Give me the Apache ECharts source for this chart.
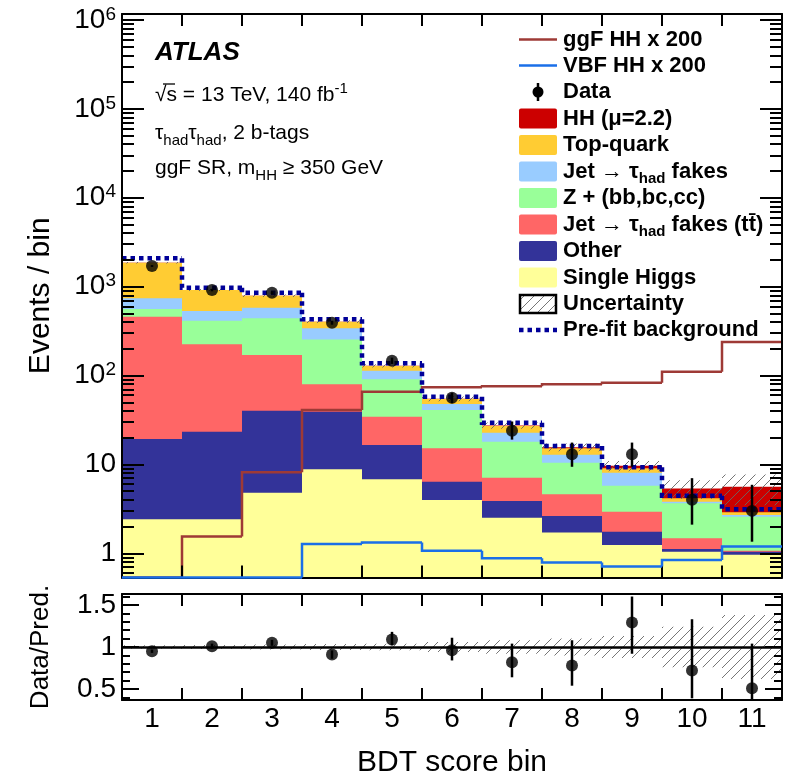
<!DOCTYPE html>
<html><head><meta charset="utf-8">
<script src="https://cdn.jsdelivr.net/npm/echarts@6/dist/echarts.min.js"></script>
<style>html,body{margin:0;padding:0;background:#fff}#c{width:800px;height:779px}</style>
</head><body><div id="c"></div>
<script>
// ---------------- data ----------------
const bins = ['1','2','3','4','5','6','7','8','9','10','11'];
// stacked post-fit components (bottom -> top)
const singleHiggs = [2.41, 2.41, 4.8, 8.8, 6.8, 3.98, 2.51, 1.71, 1.24, 1.04, 0.96];
const otherBkg    = [16.9, 20.9, 35.4, 30.4, 9.7, 2.41, 1.36, 0.92, 0.51, 0.08, 0.08];
const fakesTtbar  = [440, 201, 130, 40.8, 17.9, 8.8, 3.22, 1.98, 1.19, 0.36, 0.03];
const zHF         = [101, 190, 270, 175, 56.2, 25.7, 10.9, 5.8, 2.82, 2.17, 1.51];
const jetFakes    = [178, 118, 139, 85, 22.4, 6.9, 4.7, 2.4, 2.31, 0.15, 0.12];
const topQuark    = [1120, 384, 211, 63, 15, 6.6, 4.3, 2.4, 0.97, 0.36, 0.19];
const hhSignal    = [0.2, 0.2, 0.3, 0.3, 0.4, 0.4, 0.4, 0.4, 0.6, 1.2, 2.7];
// overlaid histograms
const ggfHH200  = [0.3, 1.54, 8.15, 40.9, 65.8, 73.7, 75.5, 79.6, 83, 110, 238];
const vbfHH200  = [0.3, 0.3, 0.3, 1.27, 1.32, 1.07, 0.88, 0.79, 0.71, 0.84, 1.19];
const prefitBkg = [2082, 972, 854, 429, 137, 57.8, 29.4, 16.1, 9.28, 4.45, 3.13];
// data
const dataVals    = [1706, 916, 854, 393, 147, 56.3, 23.9, 13, 13, 4, 3];
const dataErrUp   = [41, 30, 29, 20, 12, 7.5, 6.5, 4.6, 4.6, 3.0, 2.9];
const dataErrDown = [41, 30, 29, 20, 12, 7.5, 4.9, 3.6, 3.6, 1.9, 1.65];
// ratio panel
const ratioVals    = [0.95, 1.01, 1.05, 0.91, 1.09, 0.96, 0.82, 0.78, 1.29, 0.72, 0.51];
const ratioErrUp   = [0.02, 0.03, 0.035, 0.05, 0.09, 0.15, 0.22, 0.30, 0.31, 0.61, 0.53];
const ratioErrDown = [0.02, 0.03, 0.035, 0.05, 0.07, 0.12, 0.18, 0.24, 0.37, 0.33, 0.30];
const relUnc       = [0.02, 0.025, 0.03, 0.035, 0.04, 0.06, 0.08, 0.10, 0.13, 0.24, 0.38];
// axis ticks
const yMajorTicks = [1, 10, 100, 1000, 10000, 100000, 1000000];
const ratioMajorTicks = [0.5, 1, 1.5];
const ratioMinorTicks = [0.4, 0.6, 0.7, 0.8, 0.9, 1.1, 1.2, 1.3, 1.4, 1.6];
const yMin = 0.534, yMax = 1.168e6, rMin = 0.37, rMax = 1.63;

// ---------------- helpers ----------------
const FONT = "'Liberation Sans', Arial, Helvetica, sans-serif";
const yMinorTicks = [];
for (let e = -1; e <= 6; e++) for (let m = 2; m <= 9; m++) {
  const v = m * Math.pow(10, e);
  if (v > yMin && v < yMax) yMinorTicks.push(v);
}
function makeHatch() {
  const n = 10;
  const c = document.createElement('canvas'); c.width = n; c.height = n;
  const g = c.getContext('2d'); g.strokeStyle = '#666'; g.lineWidth = 0.9;
  g.beginPath();
  g.moveTo(0, n); g.lineTo(n, 0);
  g.moveTo(-2, 2); g.lineTo(2, -2);
  g.moveTo(n - 2, n + 2); g.lineTo(n + 2, n - 2);
  g.stroke();
  return c;
}
const hatch = { image: makeHatch(), repeat: 'repeat' };

function toY(api, i, v, cs, isLog) {
  const bottom = cs.y + cs.height;
  if (v === null || isNaN(v) || (isLog && v <= 0)) return bottom;
  const y = api.coord([i, v])[1];
  return Math.max(cs.y, Math.min(bottom, y));
}
function stackRenderer(fill) {
  return function (params, api) {
    const cs = params.coordSys;
    const i = api.value(0), hi = api.value(2);
    const cx = api.coord([i, 1])[0], w = api.size([1, 1])[0];
    const yt = toY(api, i, hi, cs, true), yb = cs.y + cs.height;
    return { type: 'rect', shape: { x: cx - w / 2, y: yt, width: w, height: Math.max(0, yb - yt) }, style: { fill: fill } };
  };
}
function bandRenderer(fill, isLog) {
  return function (params, api) {
    const cs = params.coordSys;
    const i = api.value(0), lo = api.value(1), hi = api.value(2);
    const cx = api.coord([i, 1])[0], w = api.size([1, 1])[0];
    const yt = toY(api, i, hi, cs, isLog), yb = toY(api, i, lo, cs, isLog);
    return { type: 'rect', shape: { x: cx - w / 2, y: yt, width: w, height: Math.max(0, yb - yt) }, style: { fill: fill } };
  };
}
function stepRenderer(stroke, width, dash) {
  return function (params, api) {
    const cs = params.coordSys;
    const i = api.value(0), v = api.value(1), vp = api.value(2);
    const cx = api.coord([i, 1])[0], w = api.size([1, 1])[0];
    const x0 = cx - w / 2, x1 = cx + w / 2;
    const y = toY(api, i, v, cs, true);
    const pts = [];
    if (!isNaN(vp)) pts.push([x0, toY(api, i, vp, cs, true)]);
    pts.push([x0, y], [x1, y]);
    return { type: 'polyline', shape: { points: pts }, style: { stroke: stroke, lineWidth: width, lineDash: dash || null, fill: null } };
  };
}
function errRenderer(isLog) {
  return function (params, api) {
    const cs = params.coordSys;
    const i = api.value(0);
    const cx = api.coord([i, 1])[0];
    const y0 = toY(api, i, api.value(1), cs, isLog), y1 = toY(api, i, api.value(2), cs, isLog);
    return { type: 'line', shape: { x1: cx, y1: y0, x2: cx, y2: y1 }, style: { stroke: '#000', lineWidth: 2.5 } };
  };
}

// ---------------- series ----------------
const stackDefs = [
  { name: 'Single Higgs', vals: singleHiggs, color: '#ffff99' },
  { name: 'Other', vals: otherBkg, color: '#333399' },
  { name: 'Jet → τhad fakes (tt̄)', vals: fakesTtbar, color: '#ff6666' },
  { name: 'Z + (bb,bc,cc)', vals: zHF, color: '#99ff99' },
  { name: 'Jet → τhad fakes', vals: jetFakes, color: '#99ccff' },
  { name: 'Top-quark', vals: topQuark, color: '#ffcc33' },
  { name: 'HH (μ=2.2)', vals: hhSignal, color: '#cc0000' }
];
const cum = bins.map(() => 0);
const stackSeries = stackDefs.map(d => {
  const data = d.vals.map((v, i) => { const lo = cum[i]; cum[i] = lo + v; return [i, lo, cum[i]]; });
  return { type: 'custom', name: d.name, xAxisIndex: 0, yAxisIndex: 0, z: 2, silent: true,
    encode: { x: 0, y: [1, 2] }, renderItem: stackRenderer(d.color), data: data };
}).reverse(); // draw top component first, lower ones over it
const totalPost = cum.slice();

const stepData = arr => arr.map((v, i) => [i, v, i > 0 ? arr[i - 1] : '-']);

const series = stackSeries.concat([
  { type: 'custom', name: 'Uncertainty', xAxisIndex: 0, yAxisIndex: 0, z: 3, silent: true, encode: { x: 0, y: [1, 2] },
    renderItem: bandRenderer(hatch, true), data: totalPost.map((t, i) => [i, t * (1 - relUnc[i]), t * (1 + relUnc[i])]) },
  { type: 'custom', name: 'ggF HH x 200', xAxisIndex: 0, yAxisIndex: 0, z: 4, silent: true, encode: { x: 0, y: 1 },
    renderItem: stepRenderer('#9e3a36', 2.5), data: stepData(ggfHH200) },
  { type: 'custom', name: 'Pre-fit background', xAxisIndex: 0, yAxisIndex: 0, z: 5, silent: true, encode: { x: 0, y: 1 },
    renderItem: stepRenderer('#000099', 4.5, [4.5, 4]), data: stepData(prefitBkg) },
  { type: 'custom', name: 'VBF HH x 200', xAxisIndex: 0, yAxisIndex: 0, z: 11, silent: true, encode: { x: 0, y: 1 },
    renderItem: stepRenderer('#1a6fe8', 2.5), data: stepData(vbfHH200) },
  { type: 'custom', name: 'Data errors', xAxisIndex: 0, yAxisIndex: 0, z: 6, silent: true, encode: { x: 0, y: [1, 2] },
    renderItem: errRenderer(true), data: dataVals.map((v, i) => [i, v - dataErrDown[i], v + dataErrUp[i]]) },
  { type: 'scatter', name: 'Data', xAxisIndex: 0, yAxisIndex: 0, z: 7, silent: true, symbol: 'circle', symbolSize: 12,
    itemStyle: { color: '#000' }, data: dataVals.map((v, i) => [i, v]) },
  // ratio panel
  { type: 'custom', name: 'Ratio uncertainty', xAxisIndex: 2, yAxisIndex: 4, z: 3, silent: true, encode: { x: 0, y: [1, 2] },
    renderItem: bandRenderer(hatch, false), data: relUnc.map((u, i) => [i, 1 - u, 1 + u]) },
  { type: 'custom', name: 'Ratio errors', xAxisIndex: 2, yAxisIndex: 4, z: 6, silent: true, encode: { x: 0, y: [1, 2] },
    renderItem: errRenderer(false), data: ratioVals.map((v, i) => [i, v - ratioErrDown[i], v + ratioErrUp[i]]) },
  { type: 'scatter', name: 'Ratio', xAxisIndex: 2, yAxisIndex: 4, z: 7, silent: true, symbol: 'circle', symbolSize: 12,
    itemStyle: { color: '#000' }, data: ratioVals.map((v, i) => [i, v]),
    markLine: { silent: true, symbol: 'none', label: { show: false }, z: 5,
      lineStyle: { color: '#000', width: 2.5, type: 'solid' }, data: [{ yAxis: 1 }] } }
]);

// ---------------- axes ----------------
const lineStyle = { color: '#000', width: 2 };
function xAx(grid, pos, labels) {
  return { type: 'category', data: bins, gridIndex: grid, position: pos, boundaryGap: true, z: 10,
    axisLine: { show: true, lineStyle: lineStyle, onZero: false },
    axisTick: { show: true, inside: true, length: 12, interval: 0, lineStyle: lineStyle },
    axisLabel: { show: labels, interval: 0, fontSize: 28, fontFamily: FONT, color: '#000', margin: 5 },
    splitLine: { show: false },
    name: labels ? 'BDT score bin' : '', nameLocation: 'middle', nameGap: 48,
    nameTextStyle: { fontSize: 30, fontFamily: FONT, color: '#000' } };
}
function yLog(pos, ticks, len, labels, line) {
  return { type: 'log', gridIndex: 0, position: pos, min: yMin, max: yMax, z: 10,
    axisLine: { show: line, lineStyle: lineStyle },
    axisTick: { show: true, inside: true, length: len, customValues: ticks, lineStyle: lineStyle },
    axisLabel: { show: labels, customValues: ticks, fontSize: 28, fontFamily: FONT, color: '#000', margin: 6, lineHeight: 30,
      formatter: v => { const e = Math.round(Math.log10(v)); return e === 0 ? '1' : e === 1 ? '10' : '10{sup|' + e + '}'; },
      rich: { sup: { fontSize: 19, fontFamily: FONT, color: '#000', verticalAlign: 'top', lineHeight: 14 } } },
    splitLine: { show: false }, minorTick: { show: false },
    name: labels ? 'Events / bin' : '', nameLocation: 'middle', nameGap: 66,
    nameTextStyle: { fontSize: 30, fontFamily: FONT, color: '#000' } };
}
function yRatio(pos, ticks, len, labels, line) {
  return { type: 'value', gridIndex: 1, position: pos, min: rMin, max: rMax, z: 10,
    axisLine: { show: line, lineStyle: lineStyle },
    axisTick: { show: true, inside: true, length: len, customValues: ticks, lineStyle: lineStyle },
    axisLabel: { show: labels, customValues: ticks, fontSize: 28, fontFamily: FONT, color: '#000', margin: 6,
      formatter: v => String(v) },
    splitLine: { show: false },
    name: labels ? 'Data/Pred.' : '', nameLocation: 'middle', nameGap: 68,
    nameTextStyle: { fontSize: 26, fontFamily: FONT, color: '#000' } };
}

// ---------------- text & legend ----------------
const G = [];
const txt = (x, y, text, opt) => G.push({ type: 'text', x: x, y: y, z: 20, silent: true,
  style: Object.assign({ text: text, fill: '#000', fontFamily: FONT, fontSize: 21, verticalAlign: 'middle', align: 'left' }, opt || {}) });
const subRich = (bold, fs) => ({
  s: { fontSize: fs || 15, fontFamily: FONT, fontWeight: bold ? 'bold' : 'normal', verticalAlign: 'bottom', lineHeight: 15 },
  sup: { fontSize: fs || 15, fontFamily: FONT, fontWeight: bold ? 'bold' : 'normal', verticalAlign: 'top', lineHeight: 15 }
});
txt(155, 53, 'ATLAS', { fontSize: 26, fontWeight: 'bold', fontStyle: 'italic' });
txt(155, 95, '√s = 13 TeV, 140 fb{sup|-1}', { lineHeight: 28, rich: subRich(false) });
G.push({ type: 'line', z: 20, silent: true, shape: { x1: 163, y1: 84, x2: 175, y2: 84 }, style: { stroke: '#000', lineWidth: 1.3 } });
txt(155, 133, 'τ{s|had}τ{s|had}, 2 b-tags', { lineHeight: 30, rich: subRich(false) });
txt(155, 168, 'ggF SR, m{s|HH} ≥ 350 GeV', { lineHeight: 30, rich: subRich(false) });

const LX0 = 519, LX1 = 557, LTX = 563;
const legY = [39.5, 65.5, 92, 118.5, 145, 171.5, 198, 224.5, 251, 277.5, 304, 330];
const legLabels = ['ggF HH x 200', 'VBF HH x 200', 'Data', 'HH (μ=2.2)', 'Top-quark', 'Jet → τ{s|had} fakes',
  'Z + (bb,bc,cc)', 'Jet → τ{s|had} fakes (tt̄)', 'Other', 'Single Higgs', 'Uncertainty', 'Pre-fit background'];
legLabels.forEach((l, k) => txt(LTX, legY[k], l, { fontSize: 22, fontWeight: 'bold', lineHeight: 30, rich: subRich(true, 15) }));
const gl = (y, stroke, w, dash) => G.push({ type: 'line', z: 20, silent: true, shape: { x1: LX0, y1: y, x2: LX1, y2: y },
  style: { stroke: stroke, lineWidth: w, lineDash: dash || null } });
gl(legY[0], '#9e3a36', 2.5); gl(legY[1], '#1a6fe8', 2.5);
G.push({ type: 'line', z: 20, silent: true, shape: { x1: 538, y1: legY[2] - 9, x2: 538, y2: legY[2] + 9 }, style: { stroke: '#000', lineWidth: 2.5 } });
G.push({ type: 'circle', z: 20, silent: true, shape: { cx: 538, cy: legY[2], r: 5.5 }, style: { fill: '#000' } });
const boxCols = ['#cc0000', '#ffcc33', '#99ccff', '#99ff99', '#ff6666', '#333399', '#ffff99'];
boxCols.forEach((c, k) => G.push({ type: 'rect', z: 20, silent: true,
  shape: { x: LX0, y: legY[3 + k] - 10, width: LX1 - LX0, height: 20, r: 2 }, style: { fill: c } }));
G.push({ type: 'rect', z: 20, silent: true, shape: { x: LX0 + 1, y: legY[10] - 9, width: LX1 - LX0 - 2, height: 18 },
  style: { fill: hatch, stroke: '#000', lineWidth: 2.5 } });
gl(legY[11], '#000099', 4.5, [4.5, 4]);

// ---------------- option ----------------
const option = {
  animation: false,
  backgroundColor: '#fff',
  grid: [
    { left: 122, top: 14, width: 660, height: 563.5, containLabel: false },
    { left: 122, top: 594, width: 660, height: 111, containLabel: false }
  ],
  xAxis: [xAx(0, 'bottom', false), xAx(0, 'top', false), xAx(1, 'bottom', true), xAx(1, 'top', false)],
  yAxis: [
    yLog('left', yMajorTicks, 22, true, true), yLog('right', yMajorTicks, 22, false, true),
    yLog('left', yMinorTicks, 12, false, false), yLog('right', yMinorTicks, 12, false, false),
    yRatio('left', ratioMajorTicks, 17, true, true), yRatio('right', ratioMajorTicks, 17, false, true),
    yRatio('left', ratioMinorTicks, 8, false, false), yRatio('right', ratioMinorTicks, 8, false, false)
  ],
  graphic: G,
  series: series
};
const chart = echarts.init(document.getElementById('c'), null, { renderer: 'canvas' });
chart.setOption(option);
</script>
</body></html>
